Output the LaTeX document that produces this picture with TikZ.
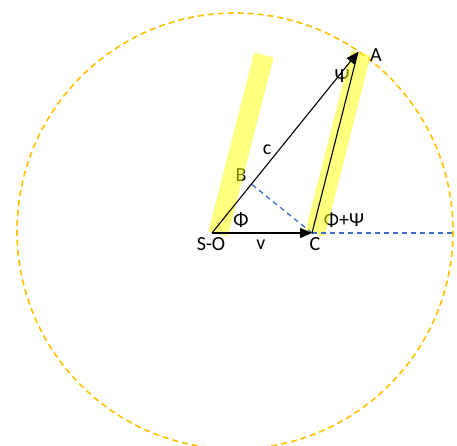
\documentclass[tikz,border=0pt]{standalone}
\usepackage{fontspec}
\setmainfont{Carlito}
\usetikzlibrary{arrows.meta,calc}
\definecolor{circorange}{RGB}{255,192,0}
\definecolor{dashblue}{RGB}{60,110,200}
\definecolor{bandyellow}{RGB}{255,255,0}
\tikzset{
  vec/.style={draw=black,line width=1.1pt},
  tipvec/.style={vec,-{Triangle[length=12pt,width=10pt]}},
  band/.style={draw=bandyellow,line width=20pt,opacity=0.5},
  helper/.style={draw=dashblue,line width=1.3pt,dash pattern=on 5pt off 4pt},
  lbl/.style={font=\fontsize{20}{22}\selectfont,inner sep=0pt}
}
\begin{document}
\begin{tikzpicture}[x=1pt,y=-1pt]
\useasboundingbox (0,0) rectangle (457,446);
\draw[circorange,line width=1.6pt,dash pattern=on 6pt off 4pt] (235,231) circle[radius=218];
\coordinate (SO) at (212,233);
\coordinate (C) at (312,233);
\coordinate (A) at (358,52);
\coordinate (E) at (454,233);
\coordinate (B) at ($(SO)!(C)!(A)$);
\node[lbl] (lA) at (376,55) {A};
\node[lbl] (lPsi) at (342,76) {Ψ};
\node[lbl] (lc) at (267,150) {c};
\node[lbl] (lB) at (241,175) {B};
\node[lbl] (lPhi) at (241,220) {Φ};
\node[lbl] (lPP) at (344,220) {Φ+Ψ};
\node[lbl] (lSO) at (211,244) {S-O};
\node[lbl] (lv) at (261,245) {v};
\node[lbl] (lC) at (315,244) {C};
\draw[band] (218,234) -- (264,55);
\draw[band] (315,234) -- (361,53);
\draw[helper] (C) -- (B);
\draw[helper] (C) -- (E);
\draw[tipvec] (SO) -- (C);
\draw[tipvec] (SO) -- (A);
\draw[vec] (C) -- (A);
\end{tikzpicture}
\end{document}
